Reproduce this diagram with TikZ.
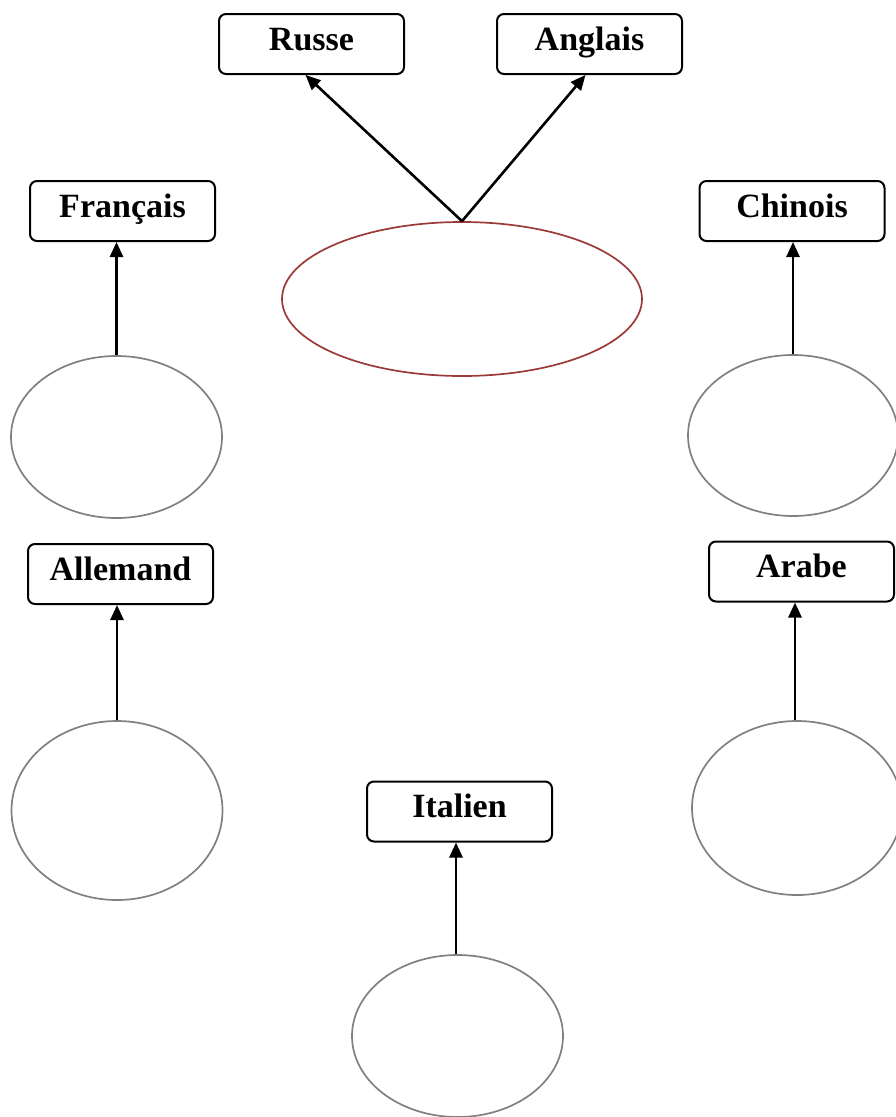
\documentclass[tikz,border=0pt]{standalone}
\usepackage{fontspec}
\setmainfont{Liberation Serif}
\usetikzlibrary{shapes.geometric,arrows.meta,calc}
\definecolor{ellgray}{HTML}{808080}
\definecolor{ellred}{HTML}{9B3A36}
\tikzset{
  langbox/.style={draw=black, line width=2pt, rounded corners=7pt, fill=white,
    minimum width=185pt, minimum height=60pt, inner sep=0pt,
    font=\fontsize{34}{38}\selectfont\bfseries, text height=22pt, text depth=10pt},
  blob/.style={ellipse, draw=ellgray, line width=1.7pt, inner sep=0pt},
  conn/.style={line width=2.6pt, -{Triangle[length=15pt,width=13pt]}}
}
\begin{document}
\begin{tikzpicture}[x=1pt,y=-1pt]
\useasboundingbox (0,0) rectangle (896,1117);
% boxes
\node[langbox] (russe) at (311.5,44) {Russe};
\node[langbox] (anglais) at (589.5,44) {Anglais};
\node[langbox] (francais) at (122.5,211) {Français};
\node[langbox] (chinois) at (792,211) {Chinois};
\node[langbox] (allemand) at (120.5,574) {Allemand};
\node[langbox] (arabe) at (801.5,571.5) {Arabe};
\node[langbox] (italien) at (459.5,811.5) {Italien};
% ellipses
\node[blob, draw=ellred, minimum width=360pt, minimum height=154pt] (centre) at (462,299) {};
\node[blob, minimum width=211pt, minimum height=162pt] (efr) at (116.5,437) {};
\node[blob, minimum width=210pt, minimum height=161pt] (ech) at (793,435.5) {};
\node[blob, minimum width=211pt, minimum height=179pt] (eal) at (117,810.5) {};
\node[blob, minimum width=210pt, minimum height=174pt] (ear) at (797,808) {};
\node[blob, minimum width=211pt, minimum height=162pt] (eit) at (457.5,1036) {};
% connectors
\draw[conn] (centre.north) -- ($(russe.south)+(-6,0)$);
\draw[conn] (centre.north) -- ($(anglais.south)+(-4,0)$);
\draw[conn] (efr.north) -- (efr.north |- francais.south);
\draw[conn] (ech.north) -- (ech.north |- chinois.south);
\draw[conn] (eal.north) -- (eal.north |- allemand.south);
\draw[conn] ($(ear.north)+(-2,0)$) -- ($(ear.north |- arabe.south)+(-2,0)$);
\draw[conn] ($(eit.north)+(-1.5,0)$) -- ($(eit.north |- italien.south)+(-1.5,0)$);
\end{tikzpicture}
\end{document}
